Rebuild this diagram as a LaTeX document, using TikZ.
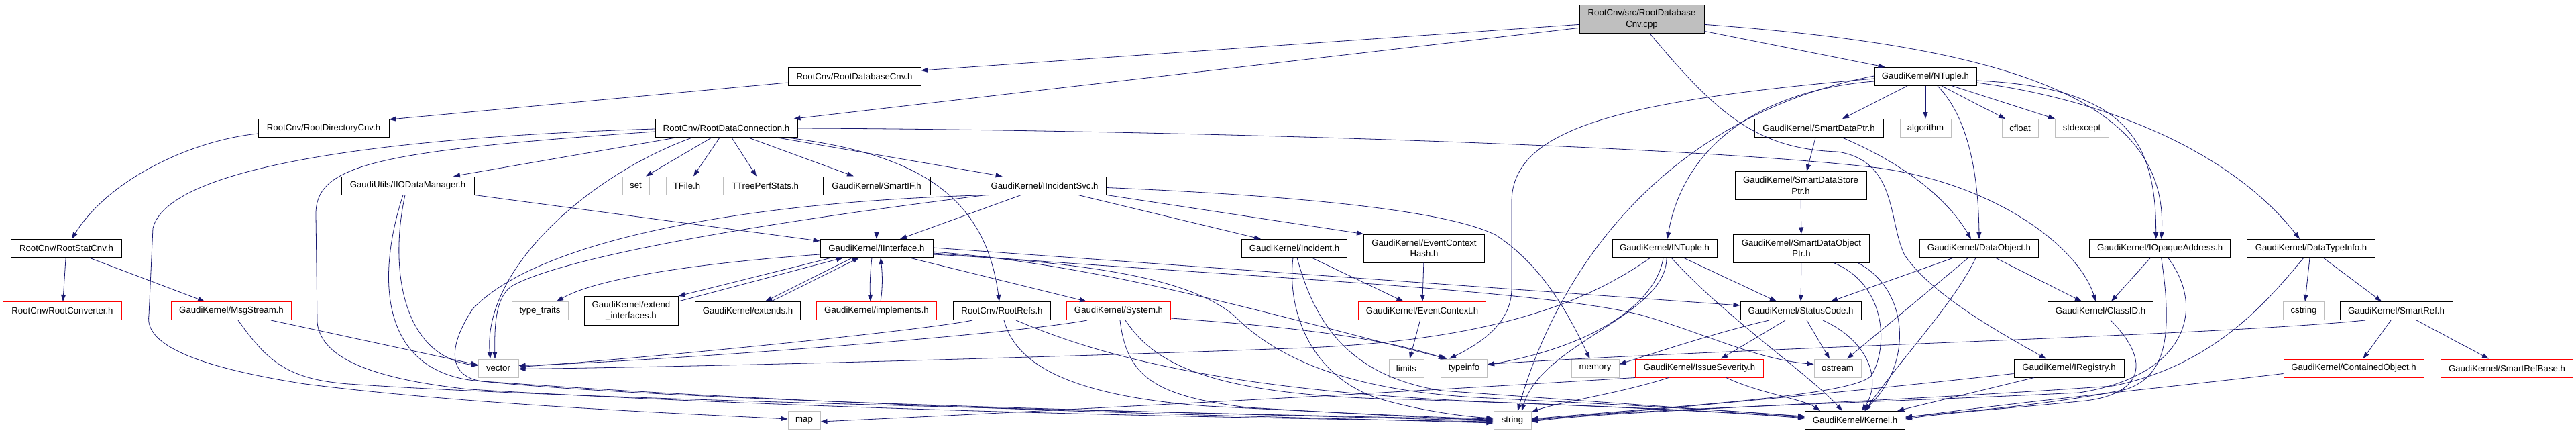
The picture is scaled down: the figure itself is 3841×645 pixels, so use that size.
\documentclass[tikz,border=0pt]{standalone}
\usepackage{fontspec}
\setmainfont{Liberation Sans}
\usetikzlibrary{arrows.meta}
\definecolor{edgeblue}{HTML}{191970}
\definecolor{boxgray}{HTML}{BFBFBF}
\begin{document}
\begin{tikzpicture}[
        x=1pt, y=-1pt, % 1 пиксель = 1pt, ось y вниз
        every node/.style = {font=\fontsize{13.2}{16.5}\selectfont},
        hdr/.style = {draw=black, fill=white, line width=1pt, rectangle, inner sep=0pt, minimum height=27pt, align=center}, % Заголовок
        sysh/.style = {hdr, draw=boxgray}, % Системный заголовок
        cuth/.style = {hdr, draw=red}, % Усечённый узел
        srch/.style = {hdr, fill=boxgray, minimum height=42pt}, % Исходный файл
        wd/.style = {minimum width=#1pt},
        inc/.style = {draw=edgeblue, line width=0.8pt, -{Triangle[length=10pt, width=7pt]}},
    ]
    \useasboundingbox (0,0) rectangle (3841,645);

    % Узлы по рядам
    \node[srch, wd=186] (root) at (2448,28.4) {RootCnv/src/RootDatabase\\Cnv.cpp};
    \node[hdr, wd=198] (rdbcnv) at (1274,114) {RootCnv/RootDatabaseCnv.h};
    \node[hdr, wd=152] (ntuple) at (2871,114) {GaudiKernel/NTuple.h};
    \node[hdr, wd=195] (rdircnv) at (482.5,191) {RootCnv/RootDirectoryCnv.h};
    \node[hdr, wd=212] (rdc) at (1083,191) {RootCnv/RootDataConnection.h};
    \node[hdr, wd=192] (sdptr) at (2712,191) {GaudiKernel/SmartDataPtr.h};
    \node[sysh, wd=76] (algorithm) at (2871,191) {algorithm};
    \node[sysh, wd=54] (cfloat) at (3012,191) {cfloat};
    \node[sysh, wd=80] (stdexcept) at (3104,191) {stdexcept};
    \node[hdr, wd=198] (iiodm) at (608,276.5) {GaudiUtils/IIODataManager.h};
    \node[sysh, wd=40] (set) at (948,276.5) {set};
    \node[sysh, wd=62] (tfile) at (1024,276.5) {TFile.h};
    \node[sysh, wd=125] (ttps) at (1141,276.5) {TTreePerfStats.h};
    \node[hdr, wd=160] (smartif) at (1307,276.5) {GaudiKernel/SmartIF.h};
    \node[hdr, wd=184] (iincsvc) at (1557.6,276.5) {GaudiKernel/IIncidentSvc.h};
    \node[hdr, wd=196, minimum height=42pt] (sdsptr) at (2685,276.5) {GaudiKernel/SmartDataStore\\Ptr.h};
    \node[hdr, wd=165] (rstatcnv) at (99,370) {RootCnv/RootStatCnv.h};
    \node[hdr, wd=168] (iinterface) at (1307,370) {GaudiKernel/IInterface.h};
    \node[hdr, wd=157] (incident) at (1930,370) {GaudiKernel/Incident.h};
    \node[hdr, wd=180, minimum height=42pt] (echash) at (2123.5,370) {GaudiKernel/EventContext\\Hash.h};
    \node[hdr, wd=156] (intuple) at (2482,370) {GaudiKernel/INTuple.h};
    \node[hdr, wd=203, minimum height=42pt] (sdoptr) at (2686,370) {GaudiKernel/SmartDataObject\\Ptr.h};
    \node[hdr, wd=177] (dataobj) at (2951,370) {GaudiKernel/DataObject.h};
    \node[hdr, wd=210] (iopaque) at (3220.6,370) {GaudiKernel/IOpaqueAddress.h};
    \node[hdr, wd=191] (dtinfo) at (3446,370) {GaudiKernel/DataTypeInfo.h};
    \node[cuth, wd=177] (rconv) at (93,463) {RootCnv/RootConverter.h};
    \node[cuth, wd=179] (msgstream) at (345,463) {GaudiKernel/MsgStream.h};
    \node[sysh, wd=84] (typetraits) at (805,463) {type\_traits};
    \node[hdr, wd=140, minimum height=43pt] (extif) at (941,463) {GaudiKernel/extend\\\_interfaces.h};
    \node[hdr, wd=157] (extends) at (1115,463) {GaudiKernel/extends.h};
    \node[cuth, wd=179] (implements) at (1307,463) {GaudiKernel/implements.h};
    \node[hdr, wd=145] (rootrefs) at (1494,463) {RootCnv/RootRefs.h};
    \node[cuth, wd=155] (system) at (1668,463) {GaudiKernel/System.h};
    \node[cuth, wd=190] (evctx) at (2120.5,463) {GaudiKernel/EventContext.h};
    \node[hdr, wd=180] (statuscode) at (2685,463) {GaudiKernel/StatusCode.h};
    \node[hdr, wd=157] (classid) at (3132,463) {GaudiKernel/ClassID.h};
    \node[sysh, wd=61] (cstring) at (3435,463) {cstring};
    \node[hdr, wd=168] (smartref) at (3573,463) {GaudiKernel/SmartRef.h};
    \node[sysh, wd=60] (vector) at (743,548.5) {vector};
    \node[sysh, wd=52] (limits) at (2097,548.5) {limits};
    \node[sysh, wd=69] (typeinfo) at (2183,548.5) {typeinfo};
    \node[sysh, wd=71] (memory) at (2378.5,548.5) {memory};
    \node[cuth, wd=191] (issuesev) at (2534,548.5) {GaudiKernel/IssueSeverity.h};
    \node[sysh, wd=70] (ostream) at (2740,548.5) {ostream};
    \node[hdr, wd=164] (iregistry) at (3085,548.5) {GaudiKernel/IRegistry.h};
    \node[cuth, wd=209] (contobj) at (3509.5,548.5) {GaudiKernel/ContainedObject.h};
    \node[cuth, wd=197] (srefbase) at (3738,548.5) {GaudiKernel/SmartRefBase.h};
    \node[sysh, wd=48] (map) at (1199,626) {map};
    \node[sysh, wd=56] (string) at (2255,626) {string};
    \node[hdr, wd=149] (kernel) at (2766,626) {GaudiKernel/Kernel.h};

    % Исходный файл
    \draw[inc] ([yshift=-8pt]root.west) -- ([yshift=9pt]rdbcnv.east);
    \draw[inc] ([yshift=-13pt]root.west) -- ([xshift=-6pt]rdc.north east);
    \draw[inc] ([yshift=-18pt]root.east) -- ([xshift=16pt]ntuple.north west);
    \draw[inc] ([yshift=-8pt]root.east) .. controls (3000,70) and (3235,150) .. ([xshift=2pt]iopaque.north);
    \draw[inc] ([xshift=12pt]root.south) .. controls (2560,170) and (2620,222) .. (2740,226) .. controls (2830,240) and (2815,330) .. (2840,380) .. controls (2880,440) and (2990,500) .. ([xshift=-34pt]iregistry.north);

    % RootCnv
    \draw[inc] ([yshift=-9pt]rdbcnv.west) -- ([yshift=-1pt]rdircnv.north east);
    \draw[inc] ([yshift=-8pt]rdircnv.west) .. controls (280,210) and (160,270) .. ([xshift=8pt]rstatcnv.north);
    \draw[inc] (rstatcnv) -- (rconv);
    \draw[inc] ([xshift=34pt]rstatcnv.south) -- ([xshift=-40pt]msgstream.north);
    \draw[inc] ([xshift=59pt]msgstream.south) -- ([yshift=5pt]vector.west);
    \draw[inc] ([xshift=10pt]msgstream.south) .. controls (400,540) and (430,565) .. (520,572) .. controls (900,598) and (1800,615) .. ([yshift=1pt]string.west);
    \draw[inc] (iiodm.south east) -- ([yshift=-3pt]iinterface.north west);
    \draw[inc] ([xshift=-4pt]iiodm.south) .. controls (580,400) and (600,530) .. ([yshift=4pt]vector.west);
    \draw[inc] ([xshift=-7pt]iiodm.south) .. controls (565,400) and (560,545) .. (700,566) .. controls (1000,600) and (1900,617) .. ([yshift=-1pt]string.west);

    % RootDataConnection.h
    \draw[inc] ([xshift=-75pt]rdc.south) -- ([xshift=68pt]iiodm.north);
    \draw[inc] ([xshift=-22pt]rdc.south) -- ([xshift=15pt]set.north);
    \draw[inc] ([xshift=-10pt]rdc.south) -- ([xshift=10pt]tfile.north);
    \draw[inc] ([xshift=8pt]rdc.south) -- ([xshift=-13pt]ttps.north);
    \draw[inc] ([xshift=33pt]rdc.south) -- ([xshift=-34pt]smartif.north);
    \draw[inc] ([xshift=76pt]rdc.south) -- ([xshift=-63pt]iincsvc.north);
    \draw[inc] ([xshift=90pt]rdc.south) .. controls (1380,230) and (1470,300) .. ([xshift=-4pt]rootrefs.north);
    \draw[inc] ([xshift=-51pt]rdc.south) .. controls (880,260) and (720,400) .. ([xshift=-12pt]vector.north);
    \draw[inc] (rdc.east) .. controls (1700,193) and (2500,215) .. (2800,250) .. controls (2980,275) and (3100,370) .. ([xshift=-7pt]classid.north);
    \draw[inc] ([yshift=-1pt]rdc.west) .. controls (560,205) and (250,250) .. (228,340) -- (222,470) .. controls (215,515) and (300,548) .. (455,572) .. controls (700,603) and (1000,615) .. ([yshift=2pt]map.west);
    \draw[inc] ([yshift=-5pt]rdc.west) .. controls (560,225) and (470,245) .. (471,320) -- (473,480) .. controls (478,535) and (560,565) .. (700,580) .. controls (1200,610) and (1800,622) .. ([yshift=-2pt]string.west);

    % IIncidentSvc.h
    \draw[inc] ([xshift=-35pt]iincsvc.south) -- ([xshift=35pt]iinterface.north);
    \draw[inc] ([xshift=50pt]iincsvc.south) -- ([xshift=-50pt]incident.north);
    \draw[inc] (iincsvc.south east) -- (echash.north west);
    \draw[inc] ([yshift=-3pt]iincsvc.east) .. controls (1900,290) and (2150,310) .. (2230,350) .. controls (2300,395) and (2340,470) .. ([xshift=-8pt]memory.north);
    \draw[inc] ([xshift=-87pt]iincsvc.south) .. controls (1150,330) and (850,380) .. (765,425) .. controls (740,440) and (737,480) .. ([xshift=-5pt]vector.north);
    \draw[inc] ([xshift=-80pt]iincsvc.south) .. controls (1100,300) and (800,360) .. (705,460) .. controls (665,520) and (670,562) .. (720,568) .. controls (1300,610) and (1900,620) .. ([yshift=-4pt]string.west);
    \draw[inc] (smartif) -- (iinterface);

    % IInterface.h
    \draw[inc] ([yshift=-9pt]iinterface.west) .. controls (1000,395) and (880,420) .. ([xshift=25pt]typetraits.north);
    \draw[inc] ([xshift=-67pt]iinterface.south) -- (extif.north east);
    \draw[inc] ([yshift=14pt]extif.east) -- ([xshift=-50pt]iinterface.south);
    \draw[inc] ([xshift=-36pt]iinterface.south) -- ([xshift=26pt]extends.north);
    \draw[inc] ([xshift=35pt]extends.north) -- ([xshift=-26pt]iinterface.south);
    \draw[inc] ([xshift=-7pt]iinterface.south) .. controls (1297,410) and (1297,430) .. ([xshift=-9pt]implements.north);
    \draw[inc] ([xshift=6pt]implements.north) .. controls (1316,430) and (1316,410) .. ([xshift=6pt]iinterface.south);
    \draw[inc] ([xshift=49pt]iinterface.south) -- ([xshift=-48pt]system.north);
    \draw[inc] ([yshift=1pt]iinterface.east) -- ([yshift=8pt]statuscode.west);
    \draw[inc] ([yshift=-5pt]iinterface.east) .. controls (1650,395) and (1900,470) .. ([xshift=-25pt]typeinfo.north);
    \draw[inc] ([yshift=-7pt]iinterface.east) .. controls (1800,410) and (2300,430) .. (2450,470) .. controls (2550,500) and (2620,535) .. ([yshift=6pt]ostream.west);
    \draw[inc] ([yshift=-9pt]iinterface.east) .. controls (1650,392) and (1780,420) .. (1840,470) .. controls (1900,530) and (2000,580) .. (2200,592) .. controls (2450,605) and (2600,612) .. ([yshift=5pt]kernel.west);

    % RootRefs.h, System.h
    \draw[inc] ([xshift=-44pt]rootrefs.south) .. controls (1380,492) and (950,535) .. ([yshift=2pt]vector.east);
    \draw[inc] ([xshift=3pt]rootrefs.south) .. controls (1515,545) and (1600,590) .. (1800,605) .. controls (2000,615) and (2150,622) .. ([yshift=2pt]string.west);
    \draw[inc] ([xshift=21pt]rootrefs.south) .. controls (1650,535) and (1850,585) .. (2250,600) .. controls (2450,608) and (2600,615) .. ([yshift=3pt]kernel.west);
    \draw[inc] ([xshift=-47pt]system.south) .. controls (1500,500) and (950,540) .. ([yshift=4pt]vector.east);
    \draw[inc] ([xshift=2pt]system.south) .. controls (1680,560) and (1720,590) .. (1860,607) .. controls (2050,618) and (2150,623) .. (string.west);
    \draw[inc] ([xshift=10pt]system.south) .. controls (1720,540) and (1800,590) .. (2100,595) .. controls (2400,605) and (2600,614) .. ([yshift=4pt]kernel.west);
    \draw[inc] ([yshift=-11pt]system.east) .. controls (1900,485) and (2050,500) .. ([xshift=-28pt]typeinfo.north);

    % Incident.h, EventContext
    \draw[inc] ([xshift=26pt]incident.south) -- ([xshift=-28pt]evctx.north);
    \draw[inc] ([xshift=-2pt]incident.south) .. controls (1918,470) and (1960,565) .. (2060,595) .. controls (2120,612) and (2180,620) .. ([yshift=3pt]string.west);
    \draw[inc] ([xshift=4pt]incident.south) .. controls (1960,480) and (2010,560) .. (2150,582) .. controls (2400,600) and (2600,614) .. ([yshift=6pt]kernel.west);
    \draw[inc] (echash) -- (evctx);
    \draw[inc] ([xshift=-3pt]evctx.south) -- ([xshift=5pt]limits.north);

    % NTuple.h
    \draw[inc] ([xshift=-27pt]ntuple.south) -- ([xshift=35pt]sdptr.north);
    \draw[inc] (ntuple) -- (algorithm);
    \draw[inc] ([xshift=24pt]ntuple.south) -- ([xshift=-22pt]cfloat.north);
    \draw[inc] ([xshift=40pt]ntuple.south) -- ([xshift=-40pt]stdexcept.north);
    \draw[inc] ([xshift=18pt]ntuple.south) .. controls (2935,175) and (2950,260) .. (dataobj.north);
    \draw[inc] ([yshift=-6pt]ntuple.east) .. controls (3160,130) and (3215,200) .. ([xshift=-6pt]iopaque.north);
    \draw[inc] ([yshift=-9pt]ntuple.east) .. controls (3150,150) and (3330,230) .. ([xshift=-17pt]dtinfo.north);
    \draw[inc] ([yshift=-7pt]ntuple.west) .. controls (2620,135) and (2510,220) .. ([xshift=4pt]intuple.north);
    \draw[inc] ([yshift=-3pt]ntuple.west) .. controls (2420,150) and (2255,190) .. (2254,300) -- (2254,430) .. controls (2254,485) and (2200,515) .. ([xshift=-22pt]typeinfo.north);
    \draw[inc] ([yshift=1pt]ntuple.west) .. controls (2500,170) and (2330,380) .. ([xshift=8pt]string.north);

    % INTuple.h
    \draw[inc] ([xshift=-21pt]intuple.south) .. controls (2380,440) and (2250,505) .. (1950,518) .. controls (1500,535) and (1000,547) .. ([yshift=-1pt]vector.east);
    \draw[inc] ([xshift=-2pt]intuple.south) .. controls (2470,450) and (2380,515) .. ([yshift=5pt]typeinfo.east);
    \draw[inc] ([xshift=3pt]intuple.south) .. controls (2485,470) and (2300,510) .. ([xshift=14pt]string.north);
    \draw[inc] ([xshift=10pt]intuple.south) .. controls (2570,470) and (2700,560) .. ([xshift=-19pt]kernel.north);
    \draw[inc] ([xshift=28pt]intuple.south) -- ([xshift=-36pt]statuscode.north);

    % SmartData*
    \draw[inc] ([xshift=-5pt]sdptr.south) -- ([xshift=9pt]sdsptr.north);
    \draw[inc] ([xshift=35pt]sdptr.south) .. controls (2830,240) and (2900,290) .. ([xshift=-12pt]dataobj.north);
    \draw[inc] (sdsptr) -- (sdoptr);
    \draw[inc] (sdoptr) -- (statuscode);
    \draw[inc] ([xshift=48pt]sdoptr.south) .. controls (2815,425) and (2815,520) .. (2790,560) .. controls (2760,590) and (2500,605) .. ([yshift=2pt]string.east);
    \draw[inc] ([xshift=84pt]sdoptr.south) .. controls (2845,430) and (2855,540) .. ([xshift=13pt]kernel.north);

    % DataObject.h, StatusCode.h
    \draw[inc] ([xshift=-38pt]dataobj.south) -- ([xshift=45pt]statuscode.north);
    \draw[inc] ([xshift=-16pt]dataobj.south) -- ([xshift=14pt]ostream.north);
    \draw[inc] ([xshift=-5pt]dataobj.south) .. controls (2915,450) and (2830,540) .. ([xshift=15pt]kernel.north);
    \draw[inc] ([xshift=24pt]dataobj.south) -- ([xshift=-28pt]classid.north);
    \draw[inc] ([xshift=-47pt]statuscode.south) .. controls (2560,495) and (2470,525) .. ([yshift=6pt]memory.east);
    \draw[inc] ([xshift=-23pt]statuscode.south) -- ([xshift=32pt]issuesev.north);
    \draw[inc] ([xshift=9pt]statuscode.south) -- ([xshift=-12pt]ostream.north);
    \draw[inc] ([xshift=33pt]statuscode.south) .. controls (2790,510) and (2805,570) .. ([xshift=10pt]kernel.north);

    % IssueSeverity.h
    \draw[inc] (issuesev.south west) .. controls (2000,590) and (1500,615) .. ([yshift=-2pt]map.east);
    \draw[inc] ([xshift=-46pt]issuesev.south) .. controls (2420,585) and (2320,600) .. ([yshift=-2pt]string.north east);
    \draw[inc] ([xshift=40pt]issuesev.south) .. controls (2620,585) and (2690,595) .. ([xshift=-52pt]kernel.north);

    % IOpaqueAddress.h, ClassID.h, IRegistry.h
    \draw[inc] ([xshift=-14pt]iopaque.south) -- ([xshift=16pt]classid.north);
    \draw[inc] ([xshift=2pt]iopaque.south) .. controls (3240,500) and (3230,560) .. (3170,580) .. controls (3050,605) and (2900,615) .. ([yshift=5pt]kernel.east);
    \draw[inc] ([xshift=12pt]iopaque.south) .. controls (3290,460) and (3260,560) .. (3100,585) .. controls (2800,600) and (2400,610) .. ([yshift=-1pt]string.east);
    \draw[inc] ([xshift=15pt]classid.south) .. controls (3210,540) and (3195,590) .. (3100,598) .. controls (3000,608) and (2900,615) .. ([yshift=2pt]kernel.east);
    \draw[inc] ([xshift=-52pt]iregistry.south) -- ([xshift=-12pt]kernel.north east);
    \draw[inc] ([yshift=-8pt]iregistry.west) .. controls (2750,585) and (2450,612) .. ([yshift=1pt]string.east);

    % DataTypeInfo.h, SmartRef.h
    \draw[inc] ([xshift=-2pt]dtinfo.south) -- ([xshift=2pt]cstring.north);
    \draw[inc] ([xshift=18pt]dtinfo.south) -- ([xshift=-22pt]smartref.north);
    \draw[inc] ([xshift=-11pt]dtinfo.south) .. controls (3380,450) and (3300,545) .. (3150,575) .. controls (2800,600) and (2400,612) .. ([yshift=-2pt]string.east);
    \draw[inc] ([xshift=-46pt]smartref.south) .. controls (3300,500) and (2600,518) .. ([yshift=6pt]typeinfo.east);
    \draw[inc] ([xshift=-8pt]smartref.south) -- ([xshift=14pt]contobj.north);
    \draw[inc] ([xshift=30pt]smartref.south) -- ([xshift=-27pt]srefbase.north);
    \draw[inc] ([yshift=-8pt]contobj.west) .. controls (3250,575) and (3000,600) .. ([yshift=4pt]kernel.east);
\end{tikzpicture}
\end{document}
